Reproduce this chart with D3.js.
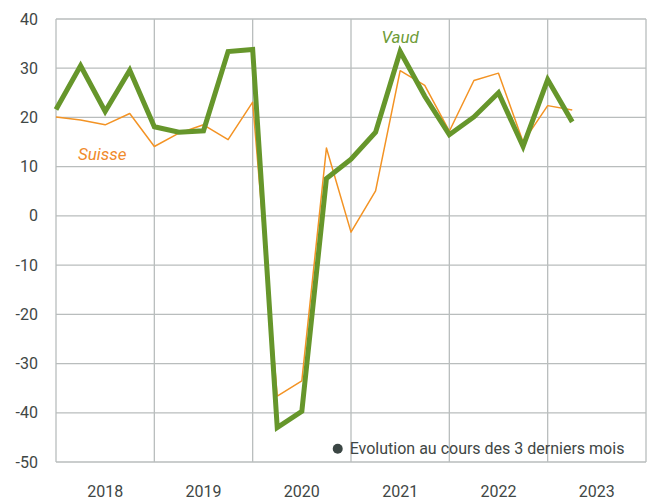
<!DOCTYPE html>
<html>
<head>
<meta charset="utf-8">
<script src="https://cdn.jsdelivr.net/npm/d3@7"></script>
<style>
  body { margin: 0; background: #fff; }
  svg text { font-family: "Liberation Sans Narrow", "Roboto", sans-serif; }
</style>
</head>
<body>
<svg id="chart" width="652" height="500"></svg>
<script>
// quarterly data, starting Q1 2018
const years = [2018, 2019, 2020, 2021, 2022, 2023];
const yTicks = [40, 30, 20, 10, 0, -10, -20, -30, -40, -50];
const vaud = [21.6, 30.5, 21.2, 29.6, 18.1, 17.0, 17.3, 33.4, 33.8, -43.0, -39.7,
    7.6, 11.5, 17.0, 33.4, 24.3, 16.5, 20.1, 25.0, 14.1, 27.7, 19.1];
const suisse = [20.1, 19.5, 18.5, 20.8, 14.1, 16.8, 18.5, 15.5, 23.1, -36.6, -33.5,
    13.8, -3.3, 5.1, 29.5, 26.5, 17.2, 27.5, 29.0, 15.0, 22.4, 21.5];

const svg = d3.select("#chart");
const margin = { left: 56, right: 6, top: 19, bottom: 38 };
const width = 652 - margin.left - margin.right;
const height = 500 - margin.top - margin.bottom;

const g = svg.append("g")
    .attr("transform", "translate(" + margin.left + "," + margin.top + ")");

let x = d3.scaleLinear()
    .domain([2018, 2024])
    .range([0, width]);

let y = d3.scaleLinear()
    .domain([-50, 40])
    .range([height, 0]);

const gridColor = "#b9bdbd";
const textColor = "#3f4745";

// horizontal grid
g.selectAll("line.h")
    .data(yTicks)
    .enter().append("line")
    .attr("class", "h")
    .attr("x1", 0)
    .attr("x2", width)
    .attr("y1", d => y(d))
    .attr("y2", d => y(d))
    .style("stroke", gridColor)
    .style("stroke-width", "1.3px");

// vertical grid
g.selectAll("line.v")
    .data(years.concat([2024]))
    .enter().append("line")
    .attr("class", "v")
    .attr("x1", d => x(d))
    .attr("x2", d => x(d))
    .attr("y1", 0)
    .attr("y2", height)
    .style("stroke", gridColor)
    .style("stroke-width", "1.3px");

// y labels
g.selectAll("text.yl")
    .data(yTicks)
    .enter().append("text")
    .attr("class", "yl")
    .attr("x", -18)
    .attr("y", d => y(d))
    .attr("dy", "0.35em")
    .style("text-anchor", "end")
    .style("font-size", "16px")
    .style("fill", textColor)
    .text(d => d);

// x labels
g.selectAll("text.xl")
    .data(years)
    .enter().append("text")
    .attr("class", "xl")
    .attr("x", d => x(d + 0.5))
    .attr("y", height + 35)
    .style("text-anchor", "middle")
    .style("font-size", "16px")
    .style("fill", textColor)
    .text(d => d);

let line = d3.line()
    .x((d, i) => x(2018 + i / 4))
    .y(d => y(d));

g.append("path")
    .datum(suisse)
    .attr("d", line)
    .style("fill", "none")
    .style("stroke", "#f39324")
    .style("stroke-width", "1.5px")
    .style("stroke-linejoin", "round");

g.append("path")
    .datum(vaud)
    .attr("d", line)
    .style("fill", "none")
    .style("stroke", "#66962b")
    .style("stroke-width", "5px")
    .style("stroke-linejoin", "miter");

// series labels
g.append("text")
    .attr("x", x(2021.5))
    .attr("y", y(36.4))
    .attr("dy", "0.35em")
    .style("text-anchor", "middle")
    .style("font-size", "17px")
    .style("font-style", "italic")
    .style("fill", "#6e9c37")
    .text("Vaud");

g.append("text")
    .attr("x", x(2018.47))
    .attr("y", y(12.6))
    .attr("dy", "0.35em")
    .style("text-anchor", "middle")
    .style("font-size", "17px")
    .style("font-style", "italic")
    .style("fill", "#f08a2c")
    .text("Suisse");

// legend
const legend = g.append("g")
    .attr("transform", "translate(" + (x(2020.865)) + "," + (y(-47.3)) + ")");

legend.append("circle")
    .attr("r", 5)
    .style("fill", "#3b4644");

legend.append("text")
    .attr("x", 12)
    .attr("dy", "0.35em")
    .style("font-size", "16px")
    .style("fill", textColor)
    .text("Evolution au cours des 3 derniers mois");
</script>
</body>
</html>
